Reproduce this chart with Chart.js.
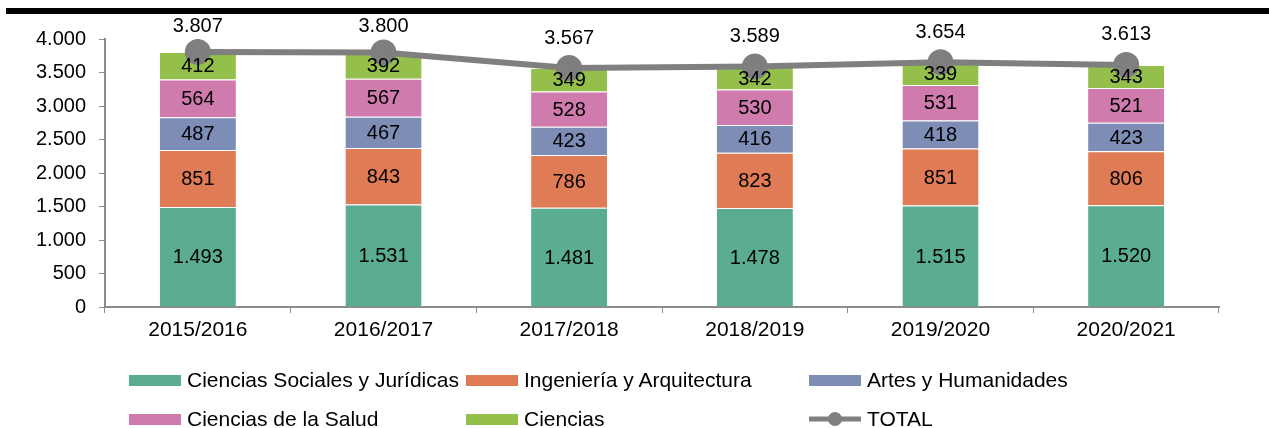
<!DOCTYPE html>
<html>
<head>
<meta charset="utf-8">
<script src="https://cdn.jsdelivr.net/npm/chart.js@4/dist/chart.umd.min.js"></script>
<style>
  body { margin: 0; background: #fff; font-family: "Liberation Sans", Arial, sans-serif; }
  #wrap { position: relative; width: 1269px; height: 428px; overflow: hidden; }
  #topline { position: absolute; left: 6px; right: 0; top: 8px; height: 6px; background: #000; }
  #chartBox { position: absolute; left: 0; top: 0; width: 1269px; height: 345px; }
  #leyenda { position: absolute; left: 0; top: 0; width: 1269px; height: 428px; pointer-events: none; }
  .item { position: absolute; display: flex; align-items: center; font-size: 21px; color: #000; white-space: nowrap; }
  .caja { width: 52px; height: 11px; margin-right: 6px; }
</style>
</head>
<body>
<div id="wrap">
  <div id="chartBox"><canvas id="grafico"></canvas></div>
  <div id="topline"></div>
  <div id="leyenda"></div>
</div>
<script>
// cursos
const cursos = ["2015/2016", "2016/2017", "2017/2018", "2018/2019", "2019/2020", "2020/2021"];

// valores por rama
const socialesJuridicas = [1493, 1531, 1481, 1478, 1515, 1520];
const ingenieriaArquitectura = [851, 843, 786, 823, 851, 806];
const artesHumanidades = [487, 467, 423, 416, 418, 423];
const cienciasSalud = [564, 567, 528, 530, 531, 521];
const ciencias = [412, 392, 349, 342, 339, 343];
const totales = [3807, 3800, 3567, 3589, 3654, 3613];

const ticksY = [0, 500, 1000, 1500, 2000, 2500, 3000, 3500, 4000];

function formatear(v) {
  return String(v).replace(/\B(?=(\d{3})+(?!\d))/g, ".");
}

// etiquetas dentro de las barras y encima de la linea
const etiquetas = {
  id: "etiquetas",
  afterDatasetsDraw(chart) {
    const ctx = chart.ctx;
    ctx.save();
    ctx.font = '20px "Liberation Sans", Arial, sans-serif';
    ctx.fillStyle = "#000";
    ctx.textAlign = "center";
    ctx.textBaseline = "middle";
    chart.data.datasets.forEach((ds, i) => {
      const meta = chart.getDatasetMeta(i);
      meta.data.forEach((el, j) => {
        const v = ds.data[j];
        if (ds.type === "line") {
          // arriba del punto, sin salirse por arriba
          const yc = Math.max(el.y - 30, 26);
          ctx.fillText(formatear(v), el.x, yc);
        } else {
          ctx.fillText(formatear(v), el.x, (el.y + el.base) / 2 + 1);
        }
      });
    });
    ctx.restore();
  }
};

const ctx = document.getElementById("grafico").getContext("2d");
const grafico = new Chart(ctx, {
  data: {
    labels: cursos,
    datasets: [
      { type: "line", label: "TOTAL", data: totales, borderColor: "#7f7f7f", backgroundColor: "#7f7f7f",
        borderWidth: 6, pointRadius: 10, pointHoverRadius: 10, stack: "total", order: 0, tension: 0 },
      { type: "bar", label: "Ciencias Sociales y Jurídicas", data: socialesJuridicas, backgroundColor: "#5aad92", order: 1 },
      { type: "bar", label: "Ingeniería y Arquitectura", data: ingenieriaArquitectura, backgroundColor: "#e07c55", order: 1 },
      { type: "bar", label: "Artes y Humanidades", data: artesHumanidades, backgroundColor: "#7e8db6", order: 1 },
      { type: "bar", label: "Ciencias de la Salud", data: cienciasSalud, backgroundColor: "#d07bad", order: 1 },
      { type: "bar", label: "Ciencias", data: ciencias, backgroundColor: "#93bf4a", order: 1 }
    ]
  },
  options: {
    responsive: true,
    maintainAspectRatio: false,
    animation: false,
    datasets: {
      bar: { barPercentage: 1, categoryPercentage: 0.41, borderWidth: { top: 1 }, borderColor: "rgba(255,255,255,0.7)", borderSkipped: false }
    },
    layout: { padding: { top: 39, right: 50, left: 0, bottom: 0 } },
    plugins: { legend: { display: false }, tooltip: { enabled: false } },
    scales: {
      x: {
        stacked: true,
        grid: { display: true, drawOnChartArea: false, offset: true, color: "#8c8c8c", tickLength: 6 },
        border: { color: "#8c8c8c", width: 2 },
        ticks: { color: "#000", font: { size: 21, family: '"Liberation Sans", Arial, sans-serif' }, padding: 5 },
        afterFit: (s) => { s.height = 38; }
      },
      y: {
        stacked: true,
        min: 0,
        max: 4000,
        afterBuildTicks: (s) => { s.ticks = ticksY.map((v) => ({ value: v })); },
        grid: { display: true, drawOnChartArea: false, color: "#8c8c8c", tickLength: 6 },
        border: { color: "#8c8c8c", width: 2 },
        ticks: { color: "#000", font: { size: 20, family: '"Liberation Sans", Arial, sans-serif' }, padding: 13,
          callback: (v) => formatear(v) },
        afterFit: (s) => { s.width = 105; }
      }
    }
  },
  plugins: [etiquetas]
});

// leyenda en tres columnas
const posiciones = [
  [129, 380], [466, 380], [809, 380],
  [129, 419], [466, 419], [809, 419]
];
const ordenLeyenda = [1, 2, 3, 4, 5, 0];
const leyenda = document.getElementById("leyenda");
ordenLeyenda.forEach((idx, k) => {
  const ds = grafico.data.datasets[idx];
  const item = document.createElement("div");
  item.className = "item";
  item.style.left = posiciones[k][0] + "px";
  item.style.top = (posiciones[k][1] - 12) + "px";
  item.style.height = "24px";
  let marca;
  if (ds.type === "line") {
    marca = '<svg width="52" height="22" style="margin-right:6px"><line x1="0" y1="11" x2="52" y2="11" stroke="' +
      ds.borderColor + '" stroke-width="5"/><circle cx="26" cy="11" r="7" fill="' + ds.borderColor + '"/></svg>';
  } else {
    marca = '<div class="caja" style="background:' + ds.backgroundColor + '"></div>';
  }
  item.innerHTML = marca + "<span>" + ds.label + "</span>";
  leyenda.appendChild(item);
});
</script>
</body>
</html>
